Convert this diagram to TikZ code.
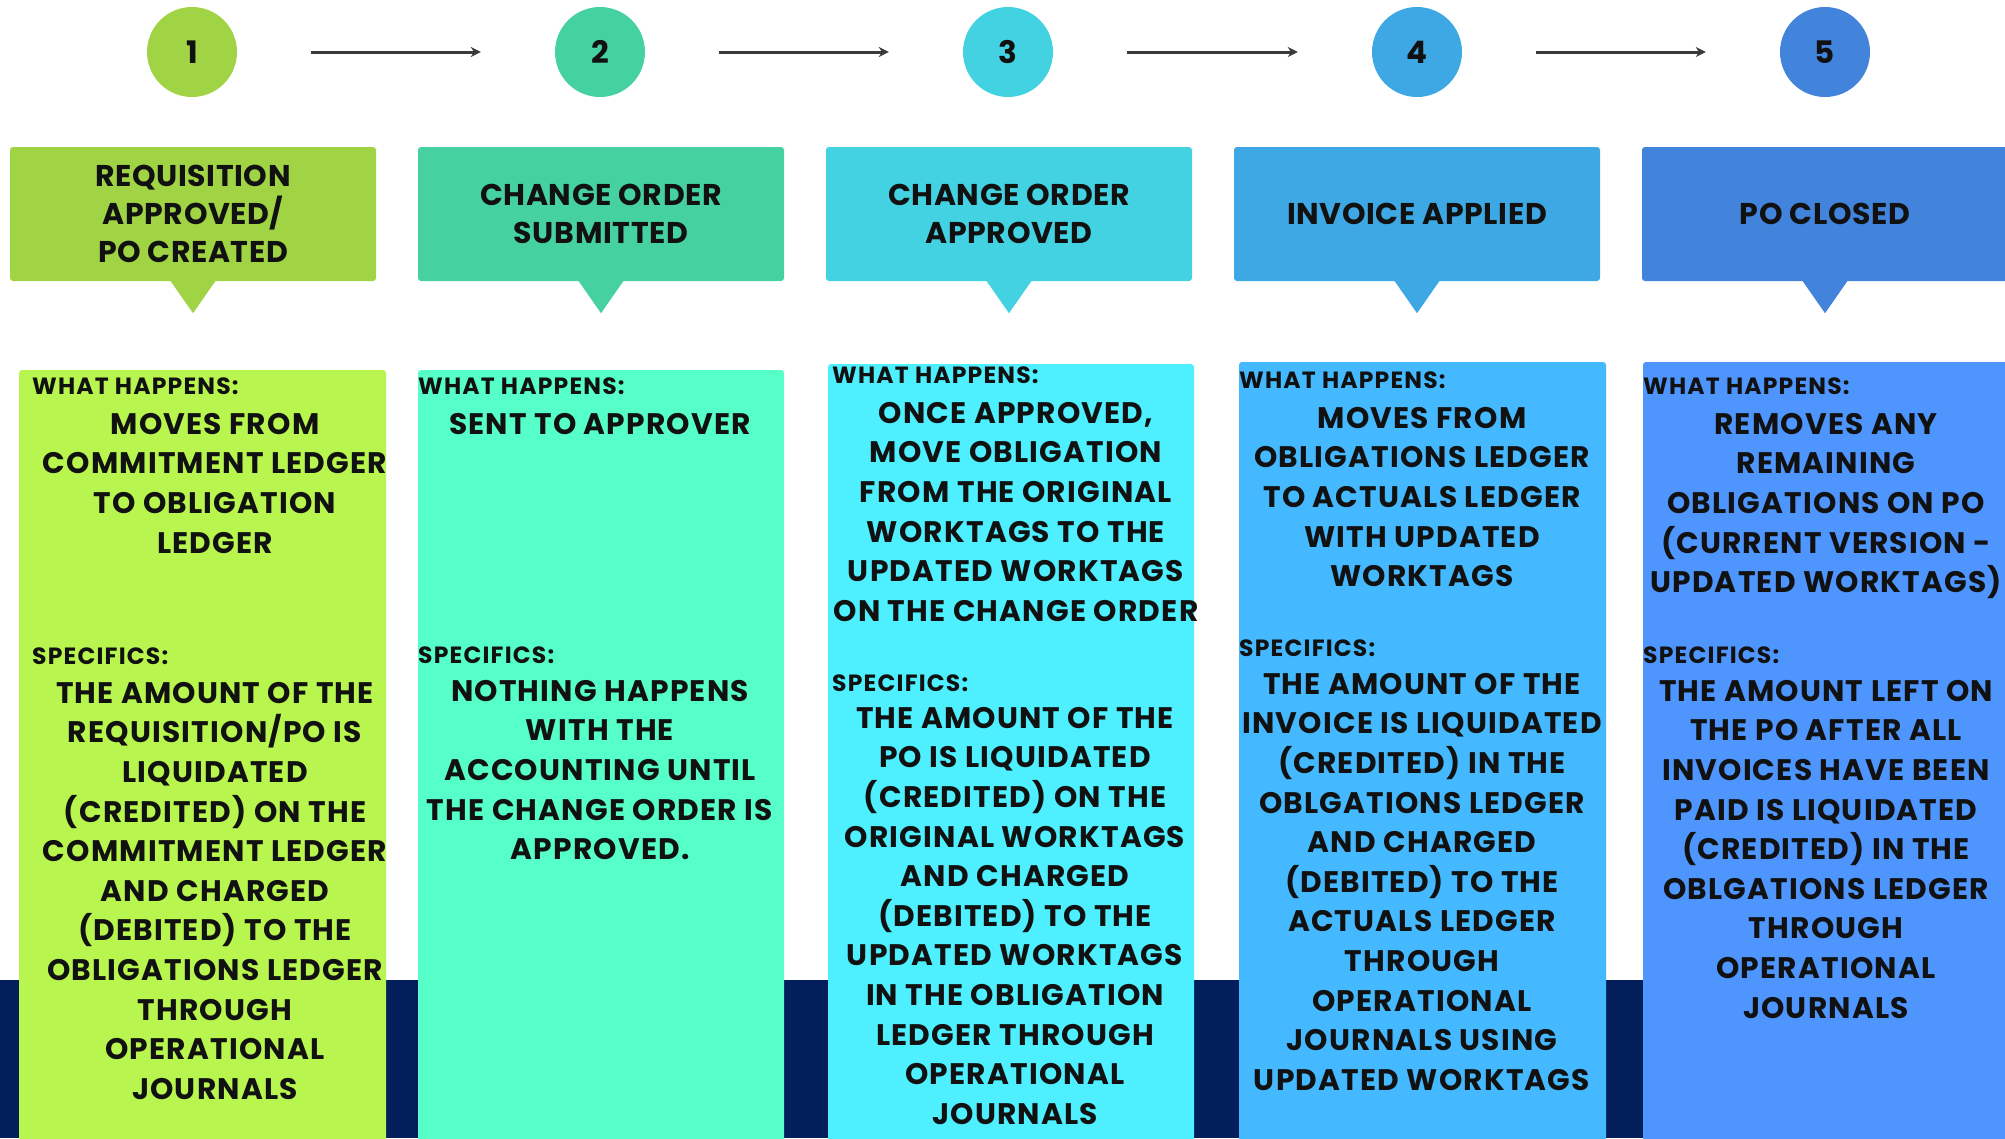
\documentclass[tikz,border=0pt]{standalone}
\usepackage{fontspec}
\setmainfont{Poppins}
\newfontfamily\bodyfont{Poppins}[LetterSpace=4]
\newfontfamily\headfont{Poppins}[LetterSpace=2]
\newfontfamily\sectfont{Poppins}[LetterSpace=5]
\usetikzlibrary{arrows.meta}

% stage colours: header/circle tone and lighter panel tone
\definecolor{hA}{HTML}{A0D444}\definecolor{pA}{HTML}{B8F54E}
\definecolor{hB}{HTML}{45D2A0}\definecolor{pB}{HTML}{55FFC7}
\definecolor{hC}{HTML}{42D2E2}\definecolor{pC}{HTML}{4EEFFF}
\definecolor{hD}{HTML}{3DA8E3}\definecolor{pD}{HTML}{45B9FF}
\definecolor{hE}{HTML}{4283DB}\definecolor{pE}{HTML}{4E95FD}
\definecolor{navy}{HTML}{021E5B}
\definecolor{ink}{HTML}{111111}
\definecolor{arrowgray}{HTML}{3A3A3A}

\begin{document}
\begin{tikzpicture}[x=1pt,y=-1pt,
  stepnum/.style={circle, minimum size=90pt, inner sep=0pt, text=ink,
    font=\fontsize{31}{31}\selectfont\bfseries},
  headbox/.style={rectangle, rounded corners=3pt, minimum width=366pt,
    minimum height=134pt, inner sep=0pt, align=center, text=ink,
    font=\headfont\fontsize{30}{38.4}\selectfont\bfseries},
  flow/.style={draw=arrowgray, line width=3pt, -{Stealth[length=10pt,width=10pt]},
    shorten <=74pt, shorten >=74pt},
  sect/.style={anchor=north west, inner sep=0pt, text=ink,
    font=\sectfont\fontsize{23.5}{23.5}\selectfont\bfseries},
  bodytext/.style={anchor=north, inner sep=0pt, align=center, text=ink,
    font=\bodyfont\fontsize{29.7}{39.6}\selectfont\bfseries},
  panel/.style={rounded corners=3pt}
]
\useasboundingbox (0,0) rectangle (2005,1138);
\fill[white] (0,0) rectangle (2005,1138);

% dark band along the bottom
\fill[navy] (0,980) rectangle (2005,1138);

% numbered steps
\node[stepnum, fill=hA] (c1) at (192,52) {1};
\node[stepnum, fill=hB] (c2) at (600,52) {2};
\node[stepnum, fill=hC] (c3) at (1008,52) {3};
\node[stepnum, fill=hD] (c4) at (1417,52) {4};
\node[stepnum, fill=hE] (c5) at (1825,52) {5};

\draw[flow] (c1) -- (c2);
\draw[flow] (c2) -- (c3);
\draw[flow] (c3) -- (c4);
\draw[flow] (c4) -- (c5);

% stage headers with pointers
\node[headbox, fill=hA] (h1) at (193,214) {REQUISITION\\APPROVED/\\PO CREATED};
\node[headbox, fill=hB] (h2) at (601,214) {CHANGE ORDER\\SUBMITTED};
\node[headbox, fill=hC] (h3) at (1009,214) {CHANGE ORDER\\APPROVED};
\node[headbox, fill=hD] (h4) at (1417,214) {INVOICE APPLIED};
\node[headbox, fill=hE] (h5) at (1825,214) {PO CLOSED};
\foreach \h/\c in {h1/hA,h2/hB,h3/hC,h4/hD,h5/hE}{
  \fill[\c] ([xshift=-23pt,yshift=1pt]\h.south) -- ([xshift=23pt,yshift=1pt]\h.south)
    -- ([yshift=-32pt]\h.south) -- cycle;
}

% detail panels
\fill[pA, panel] (19,370) rectangle (386,1160);
\fill[pB, panel] (418,370) rectangle (784,1160);
\fill[pC, panel] (828,364) rectangle (1194,1160);
\fill[pD, panel] (1239,362) rectangle (1606,1160);
\fill[pE, panel] (1643,362) rectangle (2020,1160);

% panel 1
\node[sect] (w1) at (32,378) {WHAT HAPPENS:};
\node[bodytext] (m1) at (215,413) {MOVES FROM\\COMMITMENT LEDGER\\TO OBLIGATION\\LEDGER};
\node[sect] (s1) at (32,648) {SPECIFICS:};
\node[bodytext] (d1) at (215,682) {THE AMOUNT OF THE\\REQUISITION/PO IS\\LIQUIDATED\\(CREDITED) ON THE\\COMMITMENT LEDGER\\AND CHARGED\\(DEBITED) TO THE\\OBLIGATIONS LEDGER\\THROUGH\\OPERATIONAL\\JOURNALS};

% panel 2
\node[sect] (w2) at (418,378) {WHAT HAPPENS:};
\node[bodytext] (m2) at (600,413) {SENT TO APPROVER};
\node[sect] (s2) at (418,647) {SPECIFICS:};
\node[bodytext] (d2) at (600,680) {NOTHING HAPPENS\\WITH THE\\ACCOUNTING UNTIL\\THE CHANGE ORDER IS\\APPROVED.};

% panel 3
\node[sect] (w3) at (832,367) {WHAT HAPPENS:};
\node[bodytext] (m3) at (1016,402) {ONCE APPROVED,\\MOVE OBLIGATION\\FROM THE ORIGINAL\\WORKTAGS TO THE\\UPDATED WORKTAGS\\ON THE CHANGE ORDER};
\node[sect] (s3) at (832,675) {SPECIFICS:};
\node[bodytext] (d3) at (1015,707) {THE AMOUNT OF THE\\PO IS LIQUIDATED\\(CREDITED) ON THE\\ORIGINAL WORKTAGS\\AND CHARGED\\(DEBITED) TO THE\\UPDATED WORKTAGS\\IN THE OBLIGATION\\LEDGER THROUGH\\OPERATIONAL\\JOURNALS};

% panel 4
\node[sect] (w4) at (1239,372) {WHAT HAPPENS:};
\node[bodytext] (m4) at (1422,407) {MOVES FROM\\OBLIGATIONS LEDGER\\TO ACTUALS LEDGER\\WITH UPDATED\\WORKTAGS};
\node[sect] (s4) at (1239,640) {SPECIFICS:};
\node[bodytext] (d4) at (1422,673) {THE AMOUNT OF THE\\INVOICE IS LIQUIDATED\\(CREDITED) IN THE\\OBLGATIONS LEDGER\\AND CHARGED\\(DEBITED) TO THE\\ACTUALS LEDGER\\THROUGH\\OPERATIONAL\\JOURNALS USING\\UPDATED WORKTAGS};

% panel 5
\node[sect] (w5) at (1643,378) {WHAT HAPPENS:};
\node[bodytext] (m5) at (1826,413) {REMOVES ANY\\REMAINING\\OBLIGATIONS ON PO\\(CURRENT VERSION -\\UPDATED WORKTAGS)};
\node[sect] (s5) at (1643,647) {SPECIFICS:};
\node[bodytext] (d5) at (1826,680) {THE AMOUNT LEFT ON\\THE PO AFTER ALL\\INVOICES HAVE BEEN\\PAID IS LIQUIDATED\\(CREDITED) IN THE\\OBLGATIONS LEDGER\\THROUGH\\OPERATIONAL\\JOURNALS};
\end{tikzpicture}
\end{document}
